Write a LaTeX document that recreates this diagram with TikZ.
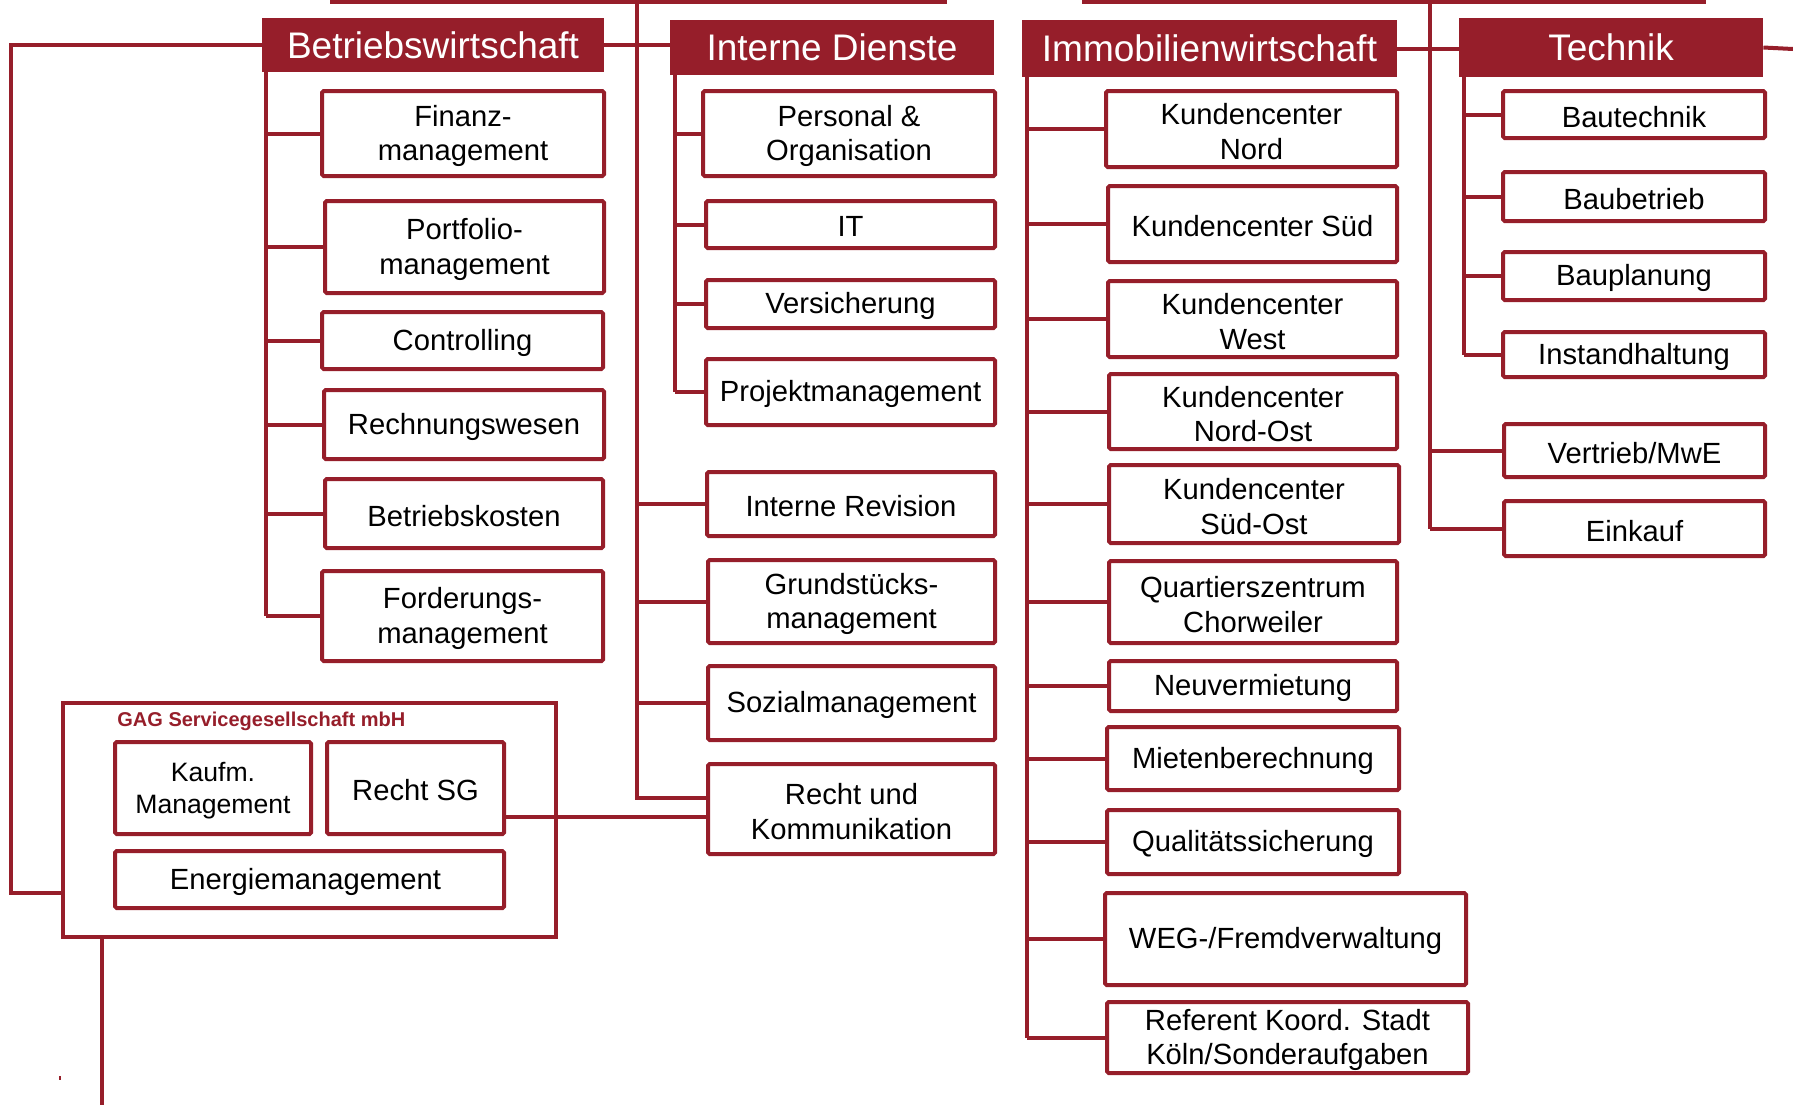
\documentclass[tikz,border=0pt]{standalone}
\usepackage{fontspec}
\setmainfont{Liberation Sans}
\definecolor{gagred}{RGB}{150,30,42}
\tikzset{
  conn/.style={draw=gagred, line width=2pt},
  oframe/.style={draw=gagred, line width=2pt, fill=white, rounded corners=0.8pt, inner sep=0pt},
  otext/.style={inner sep=0pt, align=center, text=black, font=\fontsize{14.6}{17.2}\selectfont},
  hbox/.style={fill=gagred, draw=none, inner sep=0pt, align=center, text=white, font=\fontsize{18.5}{20}\selectfont},
}
\newcommand\orgbox[7][]{\node[oframe, minimum width={(#5-#3)*0.5pt}, minimum height={(#6-#4)*0.5pt}] (#2) at ({(#3+#5)/2},{(#4+#6)/2}) {};
  \node[otext,#1] (#2t) at ([yshift=-1.2pt]#2.center) {#7};}
\newcommand\orghead[6]{\node[hbox, minimum width={(#4-#2)*0.5pt}, minimum height={(#5-#3)*0.5pt}] (#1) at ({(#2+#4)/2},{(#3+#5)/2}) {#6};}
\begin{document}
\begin{tikzpicture}[x=0.5pt,y=-0.5pt]
\useasboundingbox (0,0) rectangle (1793,1105);
% headers
\orghead{bw}{262}{18}{604}{72}{Betriebswirtschaft}
\orghead{id}{670}{20}{994}{75}{Interne Dienste}
\orghead{im}{1022}{20}{1397}{77}{Immobilienwirtschaft}
\orghead{te}{1459}{18}{1763}{77}{Technik}
% trunk coordinates
\coordinate (bwT) at (266,0);
\coordinate (idT) at (675,0);
\coordinate (mT) at (637,1.5);
\coordinate (imT) at (1027,0);
\coordinate (teT) at (1464,0);
\coordinate (rT) at (1430,1.5);
\coordinate (topA) at (330,1.5);
\coordinate (topB) at (947,1.5);
\coordinate (topC) at (1082,1.5);
\coordinate (topD) at (1706,1.5);
\coordinate (teR) at (1793,49);
\coordinate (lc) at (11,893);
\coordinate (gagL) at (63,893);
\coordinate (yRK) at (0,798);
\coordinate (yRSG) at (0,817);
\coordinate (gagB) at (102,1105);
% Betriebswirtschaft boxes
\orgbox{fin}{322}{91}{604}{176}{Finanz-\\management}
\orgbox{port}{325}{201}{604}{293}{Portfolio-\\management}
\orgbox{ctrl}{322}{312}{603}{369}{Controlling}
\orgbox{rech}{324}{390}{604}{459}{Rechnungswesen}
\orgbox{bk}{325}{479}{603}{548}{Betriebskosten}
\orgbox{ford}{322}{571}{603}{661}{Forderungs-\\management}
% Interne Dienste boxes
\orgbox{pers}{703}{91}{995}{176}{Personal \&\\Organisation}
\orgbox{it}{706}{201}{995}{248}{IT}
\orgbox{vers}{706}{280}{995}{328}{Versicherung}
\orgbox{proj}{706}{359}{995}{425}{Projektmanagement}
\orgbox{rev}{707}{472}{995}{536}{Interne Revision}
\orgbox{grund}{708}{560}{995}{643}{Grundstücks-\\management}
\orgbox{sozial}{708}{666}{995}{740}{Sozialmanagement}
\orgbox{rk}{708}{764}{995}{854}{Recht und\\Kommunikation}
% Immobilienwirtschaft boxes
\orgbox{kcn}{1106}{91}{1397}{167}{Kundencenter\\Nord}
\orgbox{kcs}{1108}{186}{1397}{262}{Kundencenter Süd}
\orgbox{kcw}{1108}{281}{1397}{357}{Kundencenter\\West}
\orgbox{kcno}{1109}{374}{1397}{449}{Kundencenter\\Nord-Ost}
\orgbox{kcso}{1109}{465}{1399}{543}{Kundencenter\\Süd-Ost}
\orgbox{qz}{1109}{561}{1397}{643}{Quartierszentrum\\Chorweiler}
\orgbox{neu}{1109}{661}{1397}{711}{Neuvermietung}
\orgbox{miet}{1107}{727}{1399}{790}{Mietenberechnung}
\orgbox{qual}{1107}{810}{1399}{874}{Qualitätssicherung}
\orgbox{weg}{1105}{893}{1466}{985}{WEG-/Fremdverwaltung}
\orgbox{ref}{1107}{1002}{1468}{1073}{Referent Koord. Stadt\\Köln/Sonderaufgaben}
% Technik boxes
\orgbox{bau}{1503}{91}{1765}{138}{Bautechnik}
\orgbox{bb}{1503}{172}{1765}{221}{Baubetrieb}
\orgbox{bp}{1503}{252}{1765}{300}{Bauplanung}
\orgbox{ih}{1503}{332}{1765}{377}{Instandhaltung}
\orgbox{ve}{1504}{424}{1765}{477}{Vertrieb/MwE}
\orgbox{ek}{1504}{501}{1765}{556}{Einkauf}
% GAG frame
\node[draw=gagred, line width=2pt, inner sep=0pt, minimum width={493*0.5pt}, minimum height={234*0.5pt}] (gag) at (309.5,820) {};
\node[anchor=west, inner sep=0pt, text=gagred, font=\bfseries\fontsize{10}{12}\selectfont] (gagt) at (117,721) {GAG Servicegesellschaft mbH};
\orgbox[font=\fontsize{13.3}{16}\selectfont]{kauf}{115}{742}{311}{834}{Kaufm.\\Management}
\orgbox{rsg}{327}{742}{504}{834}{Recht SG}
\orgbox[xshift=-2pt]{en}{115}{851}{504}{908}{Energiemanagement}
% connectors: top lines
\draw[conn] (topA) -- (topB);
\draw[conn] (topC) -- (topD);
% header links
\draw[conn] (bw.east) -- (bw.east -| id.west);
\draw[conn] (im.east) -- (im.east -| te.west);
\draw[conn] (te.east) -- (teR);
\draw[conn] (bw.west) -| (lc) -- (gagL);
% Betriebswirtschaft trunk
\draw[conn] (bwT |- bw.south) -- (bwT |- ford.west);
\foreach \b in {fin,port,ctrl,rech,bk,ford} \draw[conn] (bwT |- \b.west) -- (\b.west);
% Interne Dienste trunk
\draw[conn] (idT |- id.south) -- (idT |- proj.west);
\foreach \b in {pers,it,vers,proj} \draw[conn] (idT |- \b.west) -- (\b.west);
% middle trunk
\draw[conn] (mT) -- (mT |- yRK) -- (rk.west |- yRK);
\foreach \b in {rev,grund,sozial} \draw[conn] (mT |- \b.west) -- (\b.west);
\draw[conn] (rsg.east |- yRSG) -- (rk.west |- yRSG);
% Immobilien trunk
\draw[conn] (imT |- im.south) -- (imT |- ref.west);
\foreach \b in {kcn,kcs,kcw,kcno,kcso,qz,neu,miet,qual,weg,ref} \draw[conn] (imT |- \b.west) -- (\b.west);
% Technik trunk
\draw[conn] (teT |- te.south) -- (teT |- ih.west);
\foreach \b in {bau,bb,bp,ih} \draw[conn] (teT |- \b.west) -- (\b.west);
% right trunk
\draw[conn] (rT) -- (rT |- ek.west);
\foreach \b in {ve,ek} \draw[conn] (rT |- \b.west) -- (\b.west);
% GAG bottom line
\draw[conn] (gagB |- gag.south) -- (gagB);
\coordinate (tickA) at (60,1076);
\coordinate (tickB) at (60,1080);
\draw[gagred, line width=0.6pt] (tickA) -- (tickB);
\end{tikzpicture}
\end{document}
